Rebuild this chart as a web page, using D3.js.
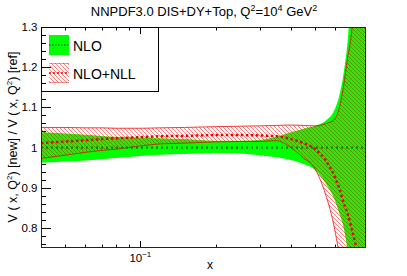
<!DOCTYPE html>
<html><head><meta charset="utf-8">
<script src="https://cdn.jsdelivr.net/npm/d3@7"></script>
<style>body{margin:0;background:#fff}svg{display:block}text{font-family:"Liberation Sans",Arial,Helvetica,sans-serif}</style>
</head><body>
<svg id="c" width="407" height="276"></svg>
<script>
const xGrid = [0.04,0.05,0.06,0.07,0.08,0.1,0.12,0.15,0.2,0.25,0.3,0.35,0.4,0.45,0.5,0.55,0.6,0.625,0.65,0.675,0.7,0.725,0.75,0.775,0.8];
const nloCentral = [1,1,1,1,1,1,1,1,1,1,1,1,1,1,1,1,1,1,1,1,1,1,1,1,1];
const nloUpper = [1.039,1.035,1.032,1.029,1.027,1.025,1.023,1.021,1.017,1.017,1.019,1.027,1.038,1.047,1.054,1.066,1.095,1.128,1.183,1.263,1.40,1.6,1.8,2.0,2.2];
const nloLower = [0.962,0.965,0.968,0.971,0.974,0.979,0.982,0.984,0.986,0.985,0.981,0.976,0.969,0.959,0.944,0.912,0.869,0.837,0.802,0.745,0.68,0.60,0.50,0.40,0.30];
const nllCentral = [1.011,1.015,1.018,1.021,1.023,1.026,1.028,1.029,1.031,1.031,1.030,1.028,1.021,1.011,0.996,0.969,0.927,0.899,0.864,0.835,0.80,0.762,0.72,0.68,0.64];
const nllUpper = [1.050,1.050,1.049,1.049,1.048,1.048,1.049,1.050,1.052,1.053,1.054,1.055,1.056,1.055,1.054,1.059,1.071,1.098,1.151,1.223,1.285,1.40,1.55,1.7,1.9];
const nllLower = [0.973,0.981,0.988,0.993,0.996,1.004,1.009,1.011,1.014,1.015,1.015,1.017,1.000,0.974,0.947,0.885,0.795,0.73,0.63,0.50,0.40,0.30,0.20,0.10,0.0];
const yMajor = [0.8,0.9,1.0,1.1,1.2,1.3];
const yTickLabels = ["0.8","0.9","1","1.1","1.2","1.3"];
const xMinor = [0.05,0.06,0.07,0.08,0.09,0.2,0.3,0.4,0.5,0.6,0.7];
const xMajor = [0.1];
const legendLabels = ["NLO","NLO+NLL"];

const svg = d3.select("#c");
const L=41,R=366,T=27,B=248;
const x = d3.scaleLog().domain([0.04,0.8]).range([L,R]);
const y = d3.scaleLinear().domain([0.75,1.3]).range([B,T]);

const defs = svg.append("defs");
defs.append("clipPath").attr("id","clip").append("rect").attr("x",L).attr("y",T).attr("width",R-L).attr("height",B-T);
const pat = defs.append("pattern").attr("id","hatch").attr("patternUnits","userSpaceOnUse").attr("width",4).attr("height",4);
pat.append("path").attr("d","M-1,-1 L5,5 M3,-1 L5,1 M-1,3 L1,5").attr("stroke","rgba(255,0,0,0.5)").attr("stroke-width",1);

// ticks (drawn beneath the bands)
const tk = svg.append("g").attr("stroke","#000").attr("stroke-width",1);
const yMinor = d3.range(0.76,1.3001,0.02);
yMinor.forEach(v=>{
  const yy=Math.round(y(v))+0.5;
  const isMaj = yMajor.some(m=>Math.abs(m-v)<1e-6);
  const len = isMaj?10:5;
  tk.append("line").attr("x1",L).attr("x2",L+len).attr("y1",yy).attr("y2",yy);
  tk.append("line").attr("x1",R).attr("x2",R-len).attr("y1",yy).attr("y2",yy);
});
xMinor.concat(xMajor).forEach(v=>{
  const xx=Math.round(x(v))+0.5;
  const len = xMajor.includes(v)?7:3.5;
  tk.append("line").attr("x1",xx).attr("x2",xx).attr("y1",B).attr("y2",B-len);
  tk.append("line").attr("x1",xx).attr("x2",xx).attr("y1",T).attr("y2",T+len);
});

const g = svg.append("g").attr("clip-path","url(#clip)");
const idx = d3.range(xGrid.length);
const area = (lo,hi)=>d3.area().x(i=>x(xGrid[i])).y0(i=>y(lo[i])).y1(i=>y(hi[i])).curve(d3.curveMonotoneX);
const line = (arr)=>d3.line().x(i=>x(xGrid[i])).y(i=>y(arr[i])).curve(d3.curveMonotoneX);

g.append("path").attr("d",area(nloLower,nloUpper)(idx)).attr("fill","#00ff00");
g.append("path").attr("d",area(nllLower,nllUpper)(idx)).attr("fill","url(#hatch)");
[nllUpper,nllLower].forEach(a=>g.append("path").attr("d",line(a)(idx)).attr("fill","none").attr("stroke","rgba(230,0,0,0.75)").attr("stroke-width",1));
g.append("path").attr("d",line(nloCentral)(idx)).attr("fill","none").attr("stroke","#1a7a1a").attr("stroke-width",2.2).attr("stroke-dasharray","2,3");
g.append("path").attr("d",line(nllCentral)(idx)).attr("fill","none").attr("stroke","#ee0000").attr("stroke-width",2.5).attr("stroke-dasharray","2.5,2.5");

// frame
svg.append("rect").attr("x",L+0.5).attr("y",T+0.5).attr("width",R-L-1).attr("height",B-T-1).attr("fill","none").attr("stroke","#222").attr("stroke-width",1);

// tick labels
const yl = svg.append("g").attr("font-size",11.5).attr("fill","#000").attr("text-anchor","end");
yMajor.forEach((v,i)=>yl.append("text").attr("x",37.5).attr("y",y(v)+4).text(yTickLabels[i]));
const xl = svg.append("text").attr("x",x(0.1)-11).attr("y",262).attr("font-size",11.5);
xl.append("tspan").text("10");
xl.append("tspan").attr("dy",-5).attr("font-size",8).text("\u22121");

// axis titles
svg.append("text").attr("x",210).attr("y",269).attr("font-size",12).attr("text-anchor","middle").text("x");
const yt = svg.append("text").attr("transform","translate(17,137) rotate(-90)").attr("text-anchor","middle").attr("font-size",12.5);
yt.append("tspan").text("V ( x, Q");
yt.append("tspan").attr("dy",-5).attr("font-size",8).text("2");
yt.append("tspan").attr("dy",5).text(") [new] / V ( x, Q");
yt.append("tspan").attr("dy",-5).attr("font-size",8).text("2");
yt.append("tspan").attr("dy",5).text(") [ref]");

// title
const tt = svg.append("text").attr("x",204).attr("y",16).attr("text-anchor","middle").attr("font-size",13);
tt.append("tspan").text("NNPDF3.0 DIS+DY+Top, Q");
tt.append("tspan").attr("dy",-5).attr("font-size",9).text("2");
tt.append("tspan").attr("dy",5).text("=10");
tt.append("tspan").attr("dy",-5).attr("font-size",9).text("4");
tt.append("tspan").attr("dy",5).text(" GeV");
tt.append("tspan").attr("dy",-5).attr("font-size",9).text("2");

// legend
const lg = svg.append("g");
lg.append("rect").attr("x",L+0.5).attr("y",T+0.5).attr("width",117).attr("height",64).attr("fill","none").attr("stroke","#000").attr("stroke-width",1);
lg.append("rect").attr("x",49).attr("y",35).attr("width",20).attr("height",20).attr("fill","#00ff00");
lg.append("line").attr("x1",49).attr("x2",69).attr("y1",45).attr("y2",45).attr("stroke","#1a7a1a").attr("stroke-width",1.5).attr("stroke-dasharray","1.5,1.5");
lg.append("rect").attr("x",49).attr("y",63).attr("width",20).attr("height",20).attr("fill","url(#hatch)");
lg.append("line").attr("x1",49).attr("x2",69).attr("y1",63.5).attr("y2",63.5).attr("stroke","rgba(230,0,0,0.4)");
lg.append("line").attr("x1",49).attr("x2",69).attr("y1",82.5).attr("y2",82.5).attr("stroke","rgba(230,0,0,0.4)");
lg.append("line").attr("x1",49).attr("x2",69).attr("y1",73).attr("y2",73).attr("stroke","#ee0000").attr("stroke-width",1.5).attr("stroke-dasharray","2,2");
lg.append("text").attr("x",73).attr("y",51).attr("font-size",14).text(legendLabels[0]);
lg.append("text").attr("x",73).attr("y",79).attr("font-size",14).text(legendLabels[1]);
</script>
</body></html>
